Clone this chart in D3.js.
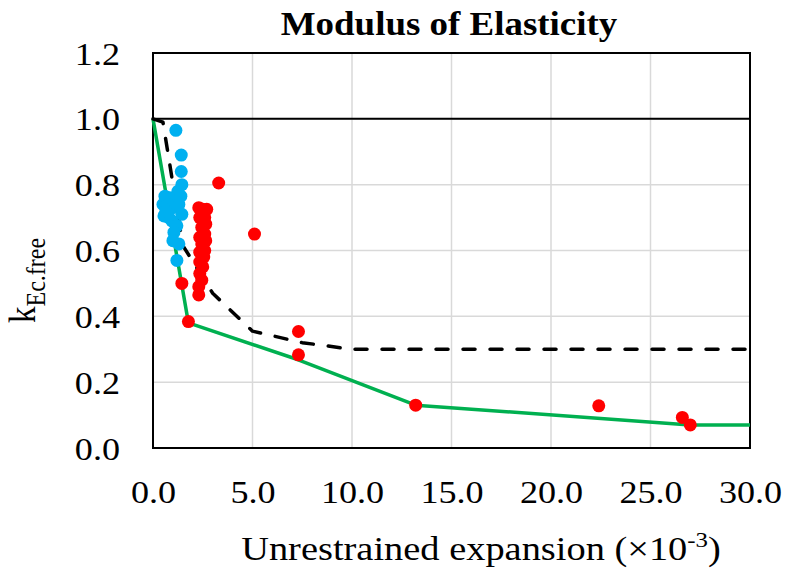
<!DOCTYPE html>
<html>
<head>
<meta charset="utf-8">
<script src="https://cdn.jsdelivr.net/npm/d3@7/dist/d3.min.js"></script>
<style>
  html, body { margin: 0; padding: 0; background: #ffffff; }
  svg { display: block; }
  text { font-family: "Liberation Serif", "Times New Roman", serif; fill: #000; }
</style>
</head>
<body>
<svg id="chart" width="787" height="569"></svg>
<script>
// Tick values on both axes
const xTicks = [0, 5, 10, 15, 20, 25, 30];
const yTicks = [0, 0.2, 0.4, 0.6, 0.8, 1.0, 1.2];

// Test results, free expansion specimens [expansion ×10^-3, kEc.free]
const bluePoints = [
  [1.15, 0.965], [1.42, 0.89], [1.42, 0.84], [1.45, 0.80], [1.40, 0.765],
  [1.25, 0.78], [0.60, 0.765], [0.85, 0.76], [1.15, 0.75], [0.50, 0.74],
  [0.75, 0.74], [1.00, 0.73], [1.45, 0.71], [0.55, 0.705], [0.80, 0.70],
  [0.95, 0.69], [1.20, 0.675], [1.05, 0.655], [1.00, 0.63], [1.30, 0.62],
  [1.20, 0.57], [0.65, 0.72], [1.30, 0.74]
];

const redPoints = [
  [2.30, 0.73], [2.70, 0.725], [2.50, 0.725], [2.60, 0.70], [2.35, 0.70],
  [2.65, 0.68], [2.45, 0.67], [2.60, 0.65], [2.35, 0.64], [2.65, 0.63],
  [2.45, 0.62], [2.60, 0.60], [2.35, 0.595], [2.55, 0.58], [2.35, 0.565],
  [2.50, 0.55], [2.35, 0.53], [2.45, 0.51], [2.30, 0.49], [2.30, 0.465],
  [3.30, 0.805], [5.10, 0.65], [1.45, 0.50], [1.78, 0.384],
  [7.31, 0.354], [7.31, 0.283], [13.2, 0.13], [22.4, 0.128],
  [26.6, 0.093], [27.0, 0.070]
];

// Lower-bound curve (green)
const lowerBound = [
  [0, 1.0], [1.78, 0.38], [7.3, 0.268], [13.2, 0.13], [27.0, 0.07], [30, 0.07]
];

// Proposed curve (black dashed)
const proposedCurve = [
  [0, 1.0], [0.5, 0.99], [1.5, 0.615], [3.0, 0.47], [5.0, 0.355],
  [7.5, 0.32], [10, 0.30], [30, 0.30]
];

// Reference level k = 1.0
const referenceLine = [[0, 1.0], [30, 1.0]];

const svg = d3.select("#chart");
const margin = { left: 153, right: 37, top: 53, bottom: 121 };
const width = 787, height = 569;
const x0 = margin.left, x1 = width - margin.right;
const y0 = height - margin.bottom, y1 = margin.top;

const x = d3.scaleLinear().domain([0, 30]).range([x0, x1]);
const y = d3.scaleLinear().domain([0, 1.2]).range([y0, y1]);
const fmt = d3.format(".1f");
const stretch = 1.13;

// Gridlines
svg.append("g")
  .selectAll("line")
  .data(xTicks.slice(1, -1))
  .join("line")
  .attr("x1", d => x(d)).attr("x2", d => x(d))
  .attr("y1", y1).attr("y2", y0)
  .attr("stroke", "#d9d9d9").attr("stroke-width", 1.5);

svg.append("g")
  .selectAll("line")
  .data(yTicks.slice(1, -1))
  .join("line")
  .attr("x1", x0).attr("x2", x1)
  .attr("y1", d => y(d)).attr("y2", d => y(d))
  .attr("stroke", "#d9d9d9").attr("stroke-width", 1.5);

// Axes (labels only; frame drawn separately)
const xAxis = svg.append("g")
  .attr("transform", `translate(0,${y0})`)
  .call(d3.axisBottom(x).tickValues(xTicks).tickSize(0).tickPadding(0).tickFormat(fmt));
xAxis.select(".domain").remove();
xAxis.selectAll("text")
  .attr("y", 0).attr("dy", null)
  .attr("font-family", "Liberation Serif").attr("font-size", 32)
  .attr("transform", `translate(0,55) scale(${stretch},1)`);

const yAxis = svg.append("g")
  .attr("transform", `translate(${x0},0)`)
  .call(d3.axisLeft(y).tickValues(yTicks).tickSize(0).tickPadding(0).tickFormat(fmt));
yAxis.select(".domain").remove();
yAxis.selectAll("text")
  .attr("x", 0).attr("dy", null).attr("y", 0)
  .attr("text-anchor", "end")
  .attr("font-family", "Liberation Serif").attr("font-size", 32)
  .attr("transform", `translate(-33,11) scale(${stretch},1)`);

// Plot frame
svg.append("rect")
  .attr("x", x0).attr("y", y1)
  .attr("width", x1 - x0).attr("height", y0 - y1)
  .attr("fill", "none").attr("stroke", "#000").attr("stroke-width", 2);

const line = d3.line().x(d => x(d[0])).y(d => y(d[1]));

svg.append("path")
  .datum(referenceLine)
  .attr("d", line)
  .attr("fill", "none").attr("stroke", "#000").attr("stroke-width", 2);

svg.append("path")
  .datum(lowerBound)
  .attr("d", line)
  .attr("fill", "none").attr("stroke", "#00b050").attr("stroke-width", 3.5)
  .attr("stroke-linejoin", "round");

svg.append("path")
  .datum(proposedCurve)
  .attr("d", line)
  .attr("fill", "none").attr("stroke", "#000").attr("stroke-width", 3.5)
  .attr("stroke-dasharray", "12,15").attr("stroke-linecap", "round")
  .attr("stroke-linejoin", "round");

svg.append("g")
  .selectAll("circle")
  .data(bluePoints)
  .join("circle")
  .attr("cx", d => x(d[0])).attr("cy", d => y(d[1]))
  .attr("r", 6.5).attr("fill", "#00b0f0");

svg.append("g")
  .selectAll("circle")
  .data(redPoints)
  .join("circle")
  .attr("cx", d => x(d[0])).attr("cy", d => y(d[1]))
  .attr("r", 6.5).attr("fill", "#ff0000");

// Title
svg.append("text")
  .attr("transform", `translate(449,35) scale(1.12,1)`)
  .attr("text-anchor", "middle")
  .attr("font-size", 33).attr("font-weight", "bold")
  .text("Modulus of Elasticity");

// X axis title
const xt = svg.append("text")
  .attr("transform", `translate(481,560) scale(${stretch},1)`)
  .attr("text-anchor", "middle")
  .attr("font-size", 34);
xt.append("tspan").text("Unrestrained expansion (×10");
xt.append("tspan").attr("font-size", 22).attr("dy", -13).text("-3");
xt.append("tspan").attr("dy", 13).text(")");

// Y axis title
const yt = svg.append("text")
  .attr("transform", `translate(35,323) rotate(-90) scale(1,${stretch})`)
  .attr("text-anchor", "start")
  .attr("font-size", 33);
yt.append("tspan").text("k");
yt.append("tspan").attr("font-size", 24).attr("dy", 9).text("Ec.free");
</script>
</body>
</html>
